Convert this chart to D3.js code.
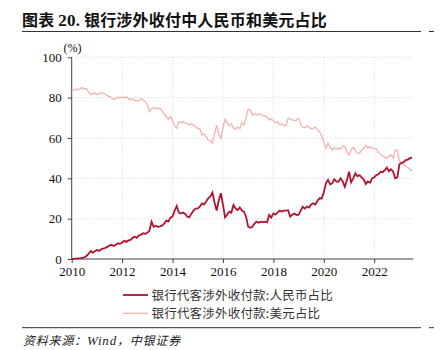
<!DOCTYPE html>
<html><head><meta charset="utf-8">
<script src="https://cdn.jsdelivr.net/npm/d3@7/dist/d3.min.js"></script>
<style>body{margin:0;background:#fff}svg{display:block}</style>
</head><body>
<svg id="c" width="442" height="350"></svg>
<script>
const titleParts = ["图表 ", "20.", " 银行涉外收付中人民币和美元占比"];
const seriesNames = ["银行代客涉外收付款:人民币占比", "银行代客涉外收付款:美元占比"];
const sourceParts = ["资料来源：", "Wind", "，中银证券"];
const startYear = 2010, startMonth = 0; // monthly from 2010-01
const xTicks = [2010, 2012, 2014, 2016, 2018, 2020, 2022];
const yTicks = [0, 20, 40, 60, 80, 100];
const rmb = [
 0.2,0.1,0.2,0.3,0.3,0.5,0.8,1.5,2.5,4.0,3.2,3.8,
 4.5,4.0,4.8,5.2,5.5,6.0,6.8,7.0,6.5,7.2,7.8,7.5,
 8.2,9.0,8.5,9.2,9.5,10.5,11.0,10.5,11.8,12.0,12.8,12.5,
 13.0,14.0,18.5,16.0,16.5,16.0,16.2,16.5,17.5,19.0,18.5,20.5,
 21.0,24.0,26.3,23.0,22.5,23.0,22.3,21.0,20.7,22.5,24.0,25.0,
 25.1,26.0,27.6,27.0,28.5,30.1,31.0,32.9,28.0,24.0,29.0,32.6,
 27.0,20.7,22.0,23.5,23.0,26.8,25.0,24.3,25.5,24.0,23.5,21.0,
 16.0,15.5,16.0,17.5,18.5,18.0,18.5,18.3,18.5,18.2,21.8,20.5,
 22.6,22.0,23.0,24.0,23.5,24.0,24.0,24.2,21.0,22.0,22.5,21.8,
 22.0,24.0,25.9,25.0,26.0,25.5,27.0,27.6,27.0,29.0,30.1,30.0,
 33.0,37.5,39.2,37.0,37.5,39.5,38.5,38.3,40.0,38.5,35.8,39.0,
 43.3,38.0,40.0,42.5,41.0,41.6,40.5,39.5,37.2,38.5,37.8,40.0,
 40.5,41.6,42.0,43.3,43.0,44.0,45.3,43.5,44.5,43.3,40.0,40.5,
 47.0,47.7,48.0,49.0,49.3,50.0,50.2
];
const usd = [
 83.5,83.8,84.2,83.8,84.5,85.0,84.2,84.5,83.0,81.5,82.0,82.3,
 81.5,82.0,82.5,82.1,81.8,81.0,80.5,80.0,79.2,79.5,80.2,80.0,
 80.2,79.8,80.5,79.5,79.0,79.5,78.8,78.3,78.5,79.5,78.8,78.0,
 76.5,73.0,74.5,75.0,74.7,74.5,74.8,73.5,72.0,70.5,69.3,70.6,
 68.5,66.0,64.8,68.0,67.5,68.0,67.5,67.3,66.5,67.0,66.5,65.5,
 64.8,64.5,61.5,62.0,60.5,59.0,58.5,57.4,62.0,66.4,62.0,59.8,
 65.0,69.3,67.5,66.0,67.0,65.0,64.3,65.5,64.5,67.6,66.5,70.0,
 74.2,74.0,71.4,72.0,71.5,71.8,72.0,71.0,70.9,70.5,68.9,69.5,
 68.5,67.6,68.0,66.5,67.0,66.4,66.0,69.7,69.5,69.0,68.5,68.9,
 69.7,67.0,65.3,65.1,66.0,65.5,64.5,64.8,65.5,64.0,63.1,61.0,
 58.0,54.9,57.4,55.5,54.0,55.0,54.5,55.0,54.5,56.0,55.7,53.0,
 51.6,54.0,55.4,54.0,52.5,52.4,54.0,55.0,56.5,55.0,55.8,55.0,
 54.9,54.5,53.0,52.0,51.0,50.5,49.9,51.0,51.6,50.0,54.0,54.0,
 48.5,47.5,47.0,46.0,45.5,44.5,43.8
];
const colors = ["#b3122e", "#f2b3b3"];

const svg = d3.select("#c");
const serif = "'Liberation Serif','DejaVu Serif',serif";
const cjk = "'Noto Sans CJK SC','Noto Sans CJK JP',sans-serif";

// title
const tt = svg.append("text").attr("x", 22).attr("y", 26)
  .attr("font-family", cjk).attr("font-weight", "bold").attr("font-size", 16)
  .attr("letter-spacing", 0.2).attr("fill", "#111");
titleParts.forEach((p, i) => {
  const s = tt.append("tspan").text(p);
  if (i === 1) s.attr("font-family", serif).attr("font-size", 17);
});
svg.append("line").attr("x1", 22).attr("x2", 421).attr("y1", 31.5).attr("y2", 31.5)
  .attr("stroke", "#333").attr("stroke-width", 1);
svg.append("line").attr("x1", 429).attr("x2", 434).attr("y1", 31.5).attr("y2", 31.5)
  .attr("stroke", "#333").attr("stroke-width", 1);

const x0 = 71.7, x1 = 413.3, y0 = 259, y1 = 57.3;
const x = d3.scaleLinear().domain([2010, 2023.55]).range([x0, x1]);
const y = d3.scaleLinear().domain([0, 100]).range([y0, y1]);
const t = i => startYear + (startMonth + i) / 12;

// grid
const g = svg.append("g");
g.selectAll(".hg").data(yTicks.filter(v => v > 0)).join("line")
  .attr("x1", x0).attr("x2", x1).attr("y1", d => y(d)).attr("y2", d => y(d))
  .attr("stroke", "#c8c8c8").attr("stroke-width", 0.8).attr("stroke-dasharray", "1,2");
g.selectAll(".vg").data(xTicks.filter(v => v > 2010)).join("line")
  .attr("x1", d => x(d)).attr("x2", d => x(d)).attr("y1", y1).attr("y2", y0)
  .attr("stroke", "#c8c8c8").attr("stroke-width", 0.8).attr("stroke-dasharray", "1,2");

// axes
const xAxis = d3.axisBottom(x).tickValues(xTicks).tickFormat(d3.format("d")).tickSize(4).tickPadding(4);
const xg = svg.append("g").attr("transform", `translate(0,${y0})`).call(xAxis);
xg.select(".domain").attr("d", `M${x0},0H${x1}`).attr("stroke", "#444");
xg.selectAll(".tick line").attr("stroke", "#444");
xg.selectAll("text").attr("font-family", serif).attr("font-size", 13).attr("fill", "#111");

const yAxis = d3.axisLeft(y).tickValues(yTicks).tickSize(4).tickPadding(6);
const yg = svg.append("g").attr("transform", `translate(${x0},0)`).call(yAxis);
yg.select(".domain").attr("d", `M0,${y1}V${y0}`).attr("stroke", "#444");
yg.selectAll(".tick line").attr("stroke", "#444");
yg.selectAll("text").attr("font-family", serif).attr("font-size", 13).attr("fill", "#111");

svg.append("text").attr("x", 72.5).attr("y", 52).attr("text-anchor", "middle")
  .attr("font-family", serif).attr("font-size", 12).attr("fill", "#111").text("(%)");

// lines
const line = d3.line().x((d, i) => x(t(i))).y(d => y(d)).curve(d3.curveLinear);
svg.append("path").datum(usd).attr("d", line).attr("fill", "none")
  .attr("stroke", colors[1]).attr("stroke-width", 1.3);
svg.append("path").datum(rmb).attr("d", line).attr("fill", "none")
  .attr("stroke", colors[0]).attr("stroke-width", 1.8);

// legend
const lg = svg.append("g");
seriesNames.forEach((n, i) => {
  const yy = 295 + i * 18.3;
  lg.append("line").attr("x1", 123).attr("x2", 148).attr("y1", yy).attr("y2", yy)
    .attr("stroke", colors[i]).attr("stroke-width", i === 0 ? 1.8 : 1.3);
  lg.append("text").attr("x", 151.5).attr("y", yy + 4.5)
    .attr("font-family", cjk).attr("font-size", 12.5).attr("letter-spacing", 0.2)
    .attr("fill", "#333").text(n);
});

// bottom rule and source
svg.append("line").attr("x1", 22).attr("x2", 421).attr("y1", 327.7).attr("y2", 327.7)
  .attr("stroke", "#333").attr("stroke-width", 1);
svg.append("line").attr("x1", 429).attr("x2", 434).attr("y1", 327.7).attr("y2", 327.7)
  .attr("stroke", "#333").attr("stroke-width", 1);
const st = svg.append("text").attr("x", 23).attr("y", 344.5)
  .attr("font-family", cjk).attr("font-style", "italic").attr("font-size", 12)
  .attr("letter-spacing", 0.8).attr("fill", "#222");
sourceParts.forEach((p, i) => {
  const s = st.append("tspan").text(p);
  if (i === 1) s.attr("font-family", serif).attr("font-size", 13);
});
</script>
</body></html>
